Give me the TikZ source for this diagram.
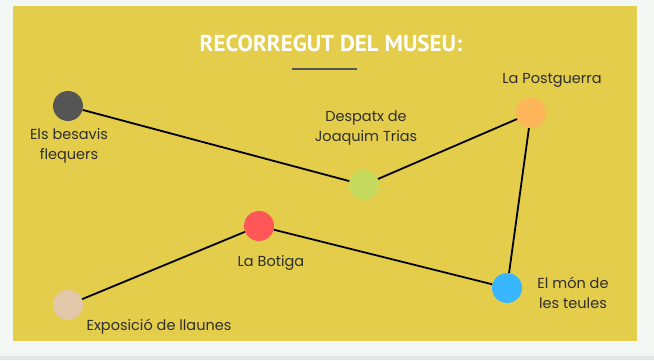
\documentclass[tikz,border=0pt]{standalone}
\usepackage{fontspec}
\setmainfont{Poppins}
\newfontfamily\titlefont{PT Sans}
\definecolor{pagebg}{HTML}{F3F8F5}
\definecolor{panel}{HTML}{E3CD4B}
\definecolor{ink}{HTML}{2E2E2E}
\definecolor{stopgray}{HTML}{555555}
\definecolor{stopgreen}{HTML}{C6DB5E}
\definecolor{stoporange}{HTML}{FDB55A}
\definecolor{stopred}{HTML}{FF5757}
\definecolor{stopblue}{HTML}{38B6FF}
\definecolor{stopbeige}{HTML}{E2C8A8}
\begin{document}
\begin{tikzpicture}[x=1pt,y=-1pt,
  stop/.style={circle,minimum size=30pt,inner sep=0pt,fill=#1},
  lbl/.style={text=ink,font=\fontsize{14.5}{20.5}\selectfont,align=center,inner sep=0pt},
  path/.style={line width=1.8pt,black}]
\useasboundingbox (0,0) rectangle (654,360);
\fill[pagebg] (0,0) rectangle (654,360);
\fill[black!10] (0,356) rectangle (654,360);
\fill[panel] (13,6) rectangle (637,341);

\node (title) at (331,43) {\titlefont\bfseries\fontsize{23}{23}\selectfont\color{white}RECORREGUT DEL MUSEU:};
\draw[stopgray,line width=2pt] (292,69) -- (357,69);

% stops of the route
\node[stop=stopgray] (besavis) at (68,106) {};
\node[stop=stopgreen] (despatx) at (364,185) {};
\node[stop=stoporange] (postguerra) at (531,113) {};
\node[stop=stopred] (botiga) at (259,226) {};
\node[stop=stopblue] (teules) at (507,288) {};
\node[stop=stopbeige] (llaunes) at (68,305) {};

\draw[path] (besavis) -- (despatx) -- (postguerra) -- (teules) -- (botiga) -- (llaunes);

\node[lbl] (lbesavis) at (69,146) {Els besavis\\flequers};
\node[lbl] (ldespatx) at (366,128) {Despatx de\\Joaquim Trias};
\node[lbl] (lpostguerra) at (552,80) {La Postguerra};
\node[lbl] (lbotiga) at (271,263) {La Botiga};
\node[lbl] (lteules) at (573,293) {El món de\\les teules};
\node[lbl] (lllaunes) at (159,327) {Exposició de llaunes};
\end{tikzpicture}
\end{document}
